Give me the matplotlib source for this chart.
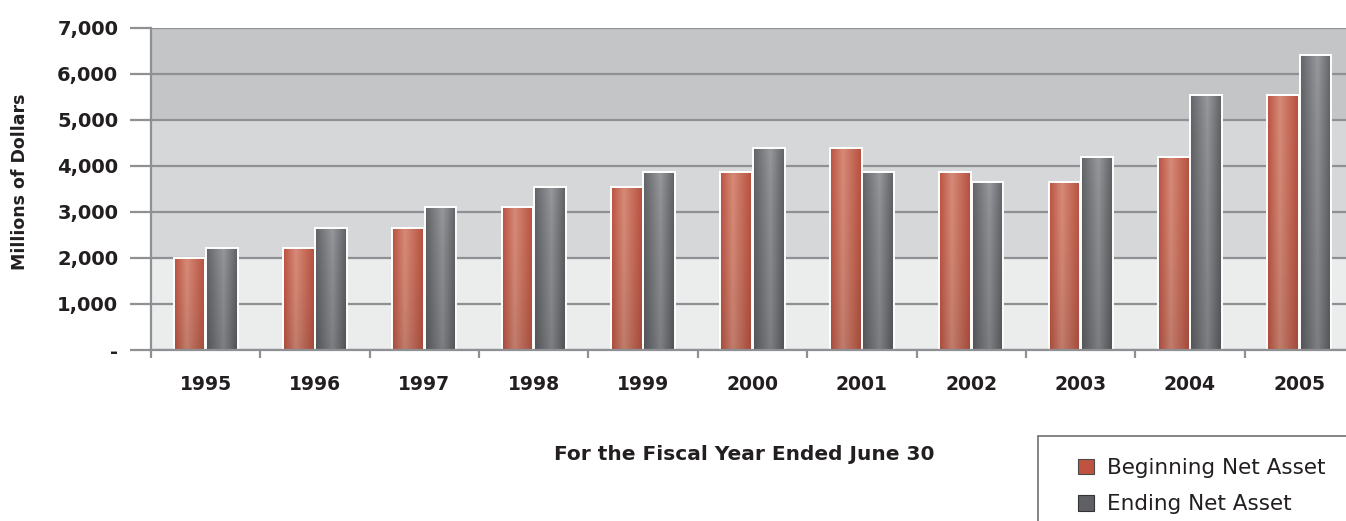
import numpy as np
import matplotlib
matplotlib.use("Agg")
import matplotlib.pyplot as plt
from matplotlib.patches import Rectangle, Patch
from matplotlib.colors import LinearSegmentedColormap

# Fiscal years and net asset values (millions of dollars)
years = ["1995", "1996", "1997", "1998", "1999", "2000",
         "2001", "2002", "2003", "2004", "2005"]
beginning_net_asset = [2010, 2220, 2660, 3110, 3540, 3880, 4400, 3880, 3660, 4190, 5540]
ending_net_asset = [2220, 2660, 3110, 3540, 3880, 4400, 3880, 3660, 4190, 5540, 6410]
y_ticks = [0, 1000, 2000, 3000, 4000, 5000, 6000, 7000]
y_tick_labels = ["-", "1,000", "2,000", "3,000", "4,000", "5,000", "6,000", "7,000"]
series_names = ["Beginning Net Asset", "Ending Net Asset"]

W, H = 1346, 521
fig = plt.figure(figsize=(W / 100, H / 100), dpi=100)
fig.patch.set_facecolor("white")

ax = fig.add_axes([151 / W, 171 / H, 1203 / W, 322 / H])
ax.set_xlim(-0.5, len(years) - 0.5)
ax.set_ylim(0, 7000)

grid_color = "#8E9093"

# Shaded background bands
ax.axhspan(0, 2000, color="#EBECEC", zorder=0, lw=0)
ax.axhspan(2000, 5000, color="#D6D7D9", zorder=0, lw=0)
ax.axhspan(5000, 7000, color="#C4C5C7", zorder=0, lw=0)
for t in y_ticks:
    ax.axhline(t, color=grid_color, lw=1.6, zorder=1)

x = np.arange(len(years))
bw = 0.29
off = 0.148

red_bars = ax.bar(x - off, beginning_net_asset, width=bw, color="#C45A47",
                  edgecolor="white", linewidth=1.4, zorder=3)
gray_bars = ax.bar(x + off, ending_net_asset, width=bw, color="#6E7074",
                   edgecolor="white", linewidth=1.4, zorder=3)


def shade(bars, left_c, mid_c, right_c, peak, top_boost, bottom_dark):
    """Fill each bar with a soft horizontal/vertical shading."""
    cmap = LinearSegmentedColormap.from_list(
        "s", [(0, left_c), (peak, mid_c), (1, right_c)])
    nx, ny = 64, 64
    u = np.linspace(0, 1, nx)
    v = np.linspace(0, 1, ny)[:, None]
    base = cmap(u)[None, :, :3].repeat(ny, axis=0)
    # v=0 is the bottom row with origin='lower'
    fac = 1 - bottom_dark * (1 - v) ** 1.5 + top_boost * v ** 6
    img = np.clip(base * fac[:, :, None], 0, 1)
    for p in bars:
        x0, y0 = p.get_x(), p.get_y()
        w, h = p.get_width(), p.get_height()
        im = ax.imshow(img, extent=[x0, x0 + w, y0, y0 + h], origin="lower",
                       aspect="auto", interpolation="bilinear", zorder=3.5)
        im.set_clip_path(p)
        # redraw white outline on top
        ax.add_patch(Rectangle((x0, y0), w, h, fill=False, edgecolor="white",
                               lw=1.4, zorder=4))


shade(red_bars, "#BA5140", "#D68A77", "#B64F3E", 0.4, 0.0, 0.10)
shade(gray_bars, "#5C5E62", "#8E9094", "#595B5F", 0.55, 0.06, 0.12)

ax.set_xlim(-0.5, len(years) - 0.5)
ax.set_ylim(0, 7000)

# Spines
for s in ["top", "right"]:
    ax.spines[s].set_visible(False)
ax.spines["bottom"].set_color(grid_color)
ax.spines["bottom"].set_linewidth(1.6)
ax.spines["left"].set_color(grid_color)
ax.spines["left"].set_linewidth(1.6)
ax.spines["bottom"].set_zorder(5)

# Y axis
ax.set_yticks(y_ticks)
ax.set_yticklabels(y_tick_labels)
ax.tick_params(axis="y", length=15, width=1.6, color=grid_color, pad=8.5,
               labelsize=14, labelcolor="#231F20")
for lab in ax.get_yticklabels():
    lab.set_fontweight("bold")

# X axis: labels at centres, tick marks at category boundaries
ax.set_xticks(x)
ax.set_xticklabels(years)
ax.tick_params(axis="x", which="major", length=0, pad=18,
               labelsize=13.5, labelcolor="#231F20")
for lab in ax.get_xticklabels():
    lab.set_fontweight("bold")
ax.set_xticks(np.arange(-0.5, len(years), 1.0), minor=True)
ax.tick_params(axis="x", which="minor", length=6, width=1.6, color=grid_color)

fig.text(20 / W, 1 - 182 / H, "Millions of Dollars", rotation=90,
         ha="center", va="center", fontsize=12.5, fontweight="bold",
         color="#231F20")
fig.text(744 / W, 1 - 455 / H, "For the Fiscal Year Ended June 30",
         ha="center", va="center", fontsize=14.5, fontweight="bold",
         color="#231F20")

# Legend frame running off the lower right corner
fig.patches.append(Rectangle((1038 / W, -0.05), 0.3, (521 - 436) / H + 0.05,
                             transform=fig.transFigure, facecolor="white",
                             edgecolor="#6F6F6F", lw=1.2, zorder=1))
handles = [Patch(facecolor="#C0533F", edgecolor="#4A4A4A", lw=0.8),
           Patch(facecolor="#5E6064", edgecolor="#333333", lw=0.8)]
leg = fig.legend(handles, series_names, loc="upper left",
                 bbox_to_anchor=(1063 / W, 1 - 443 / H), frameon=False,
                 fontsize=15.5, handlelength=0.75, handleheight=0.75,
                 handletextpad=0.6, labelspacing=0.76, borderpad=0.2)
for t in leg.get_texts():
    t.set_color("#231F20")

fig.savefig("out.png", dpi=100)
